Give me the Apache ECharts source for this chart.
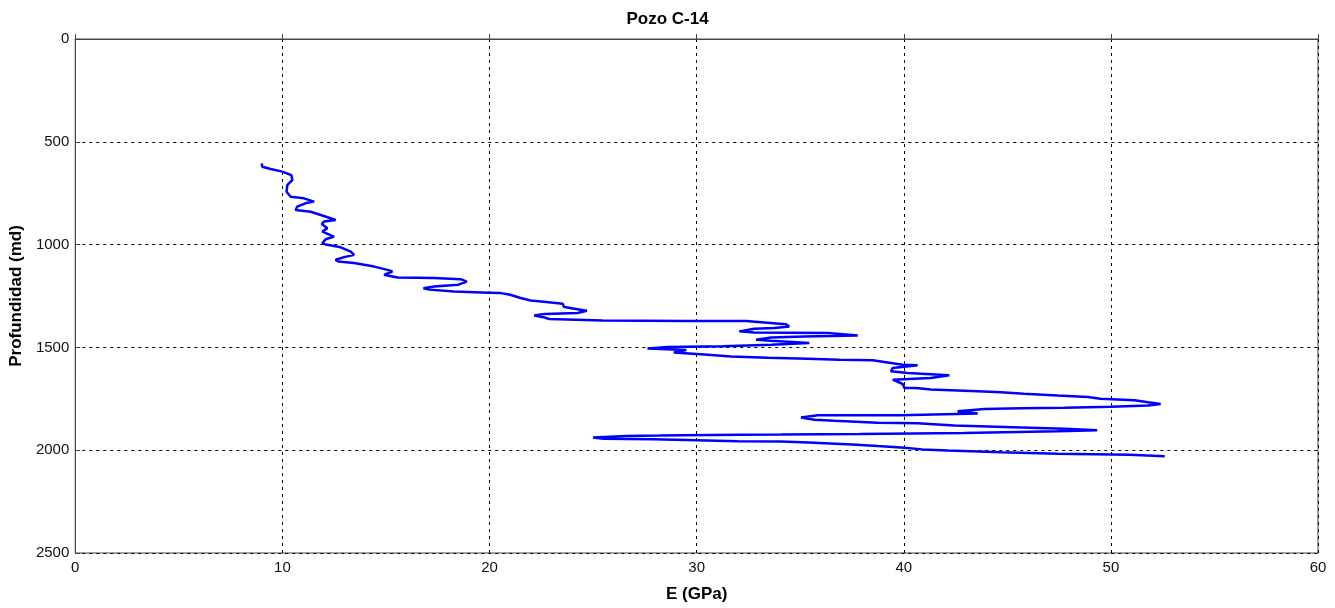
<!DOCTYPE html>
<html>
<head>
<meta charset="utf-8">
<script src="https://cdn.jsdelivr.net/npm/echarts@6/dist/echarts.min.js"></script>
<style>
html,body{margin:0;padding:0;background:#fff;}
#chart{width:1335px;height:608px;}
</style>
</head>
<body>
<div id="chart"></div>
<script>
// Young's modulus E (GPa) vs depth (md), in drawing order
const modulusE = [
  9.0, 9.03, 9.43, 10.0, 10.43, 10.48, 10.24, 10.2, 10.4, 11.04, 11.53, 11.2, 10.72, 10.64, 11.37, 11.85,
  12.33, 12.57, 12.01, 11.9, 12.17, 11.93, 12.49, 12.09, 11.93, 12.1, 12.82, 13.3, 13.46, 12.98, 12.57, 12.7,
  13.46, 14.43, 15.07, 15.31, 14.91, 15.0, 15.56, 17.32, 18.61, 18.9, 18.5, 17.32, 16.81, 17.1, 18.29, 19.98,
  20.55, 21.0, 21.5, 21.98, 22.5, 22.97, 23.53, 23.6, 24.25, 24.7, 24.25, 22.64, 22.16, 22.6, 22.88, 25.46,
  29.57, 32.38, 32.46, 34.3, 34.47, 33.75, 32.78, 32.06, 32.78, 36.33, 37.78, 35.2, 33.6, 32.87, 33.6, 35.44,
  33.6, 31.26, 28.6, 27.63, 29.5, 28.9, 30.37, 31.66, 33.43, 35.36, 36.9, 38.5, 39.06, 39.95, 40.67, 39.47,
  39.38, 40.19, 42.2, 41.3, 39.47, 39.38, 39.95, 40.03, 40.6, 41.3, 43.25, 44.7, 45.8, 47.43, 48.89, 49.5,
  51.14, 51.8, 52.4, 51.8, 50.0, 47.76, 45.67, 43.9, 42.6, 43.57, 39.87, 35.85, 35.04, 35.7, 36.65, 38.74,
  40.67, 42.44, 45.28, 47.76, 49.34, 47.44, 42.9, 37.9, 34.06, 32.1, 29.3, 28.2, 26.6, 25.0, 25.5, 27.9,
  30.0, 31.98, 34.06, 35.4, 37.5, 38.74, 40.03, 40.9, 42.13, 44.7, 47.44, 50.9, 52.6
];
const depthMd = [
  605, 621, 632, 645, 662, 686, 710, 743, 767, 775, 791, 796, 815, 832, 840, 856,
  872, 880, 888, 900, 920, 937, 961, 974, 993, 1000, 1013, 1034, 1050, 1061, 1074, 1082,
  1090, 1107, 1123, 1131, 1147, 1155, 1160, 1163, 1168, 1180, 1195, 1204, 1212, 1219, 1228, 1234,
  1236, 1244, 1260, 1272, 1277, 1282, 1288, 1304, 1314, 1322, 1333, 1338, 1345, 1353, 1362, 1369,
  1372, 1372, 1381, 1387, 1398, 1406, 1409, 1422, 1427, 1430, 1442, 1447, 1452, 1463, 1468, 1479,
  1487, 1494, 1498, 1505, 1513, 1525, 1535, 1544, 1550, 1555, 1560, 1563, 1571, 1584, 1587, 1600,
  1616, 1624, 1636, 1649, 1657, 1665, 1678, 1697, 1697, 1705, 1712, 1718, 1725, 1734, 1741, 1750,
  1757, 1767, 1775, 1783, 1789, 1794, 1796, 1800, 1811, 1822, 1830, 1830, 1841, 1852, 1857, 1866,
  1869, 1880, 1888, 1896, 1903, 1908, 1916, 1921, 1924, 1925, 1927, 1929, 1931, 1938, 1944, 1947,
  1951, 1956, 1958, 1962, 1972, 1980, 1988, 1996, 2001, 2010, 2017, 2022, 2029
];
const xTicks = { min: 0, max: 60, interval: 10 };
const yTicks = { min: 0, max: 2500, interval: 500 };
const chartTitle = 'Pozo C-14';
const xName = 'E (GPa)';
const yName = 'Profundidad (md)';

const points = modulusE.map((e, i) => [e, depthMd[i]]);

const font = 'Liberation Sans, Arial, sans-serif';
const split = { show: true, lineStyle: { color: '#000', type: [3, 4], width: 1 } };
const chart = echarts.init(document.getElementById('chart'), null, { renderer: 'canvas' });
chart.setOption({
  animation: false,
  backgroundColor: '#fff',
  title: {
    text: chartTitle, left: 'center', top: 6,
    textStyle: { fontFamily: font, fontWeight: 'bold', fontSize: 17, color: '#000' }
  },
  grid: { left: 75, top: 39, right: 17, bottom: 53, show: true, borderColor: '#444', borderWidth: 1, containLabel: false },
  xAxis: [{
    type: 'value', min: xTicks.min, max: xTicks.max, interval: xTicks.interval,
    name: xName, nameLocation: 'middle', nameGap: 33,
    nameTextStyle: { fontFamily: font, fontWeight: 'bold', fontSize: 17, color: '#000' },
    axisLine: { show: true, lineStyle: { color: '#444' } },
    axisTick: { show: true, inside: true, length: 5, lineStyle: { color: '#444' } },
    axisLabel: { fontFamily: font, fontSize: 15, color: '#111', margin: 7, formatter: v => String(v) },
    splitLine: split
  }, {
    type: 'value', position: 'top', min: xTicks.min, max: xTicks.max, interval: xTicks.interval,
    axisLine: { show: true, lineStyle: { color: '#444' } },
    axisTick: { show: false },
    axisLabel: { show: false }, splitLine: { show: false }
  }],
  yAxis: [{
    type: 'value', inverse: true, min: yTicks.min, max: yTicks.max, interval: yTicks.interval,
    name: yName, nameLocation: 'middle', nameGap: 44,
    nameTextStyle: { fontFamily: font, fontWeight: 'bold', fontSize: 17, color: '#000' },
    axisLine: { show: true, lineStyle: { color: '#444' } },
    axisTick: { show: true, inside: true, length: 5, lineStyle: { color: '#444' } },
    axisLabel: { fontFamily: font, fontSize: 15, color: '#111', margin: 6, formatter: v => String(v) },
    splitLine: split
  }, {
    type: 'value', position: 'right', inverse: true, min: yTicks.min, max: yTicks.max, interval: yTicks.interval,
    axisLine: { show: true, lineStyle: { color: '#444' } },
    axisTick: { show: false },
    axisLabel: { show: false }, splitLine: { show: false }
  }],
  series: [{
    type: 'line', data: points, xAxisIndex: 0, yAxisIndex: 0,
    showSymbol: false, symbol: 'none',
    lineStyle: { color: '#0000ff', width: 2.5 },
    z: 5
  }]
});
</script>
</body>
</html>
